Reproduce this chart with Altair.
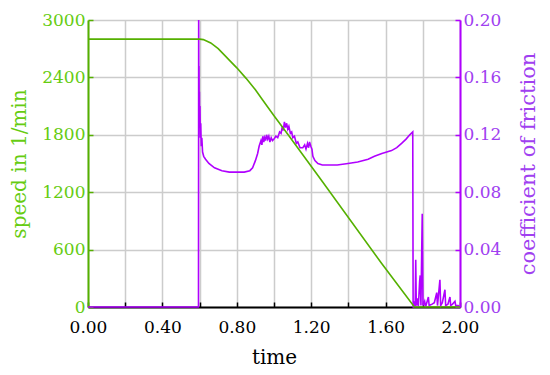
import altair as alt
import pandas as pd

# speed (1/min) vs time
speed_t = [0.0, 0.60, 0.62, 0.66, 0.70, 0.77, 0.80, 0.85, 0.90, 0.939, 1.0, 1.076, 1.254, 1.578, 1.755, 2.0]
speed_v = [2800, 2800, 2795, 2760, 2700, 2560, 2500, 2390, 2270, 2164, 2000, 1800, 1327, 457, 0, 0]

# coefficient of friction vs time
fric_t = [0.000, 0.594, 0.595, 0.596, 0.597, 0.598, 0.599, 0.600, 0.602, 0.604, 0.606, 0.609,
          0.612, 0.616, 0.622, 0.632, 0.650, 0.680, 0.720, 0.760, 0.800, 0.840, 0.870, 0.885,
          0.900, 0.912, 0.920, 0.930, 0.935, 0.940, 0.945, 0.950, 0.955, 0.960, 0.966, 0.972,
          0.978, 0.985, 0.992, 1.000, 1.010, 1.020, 1.030, 1.038, 1.045, 1.050, 1.056, 1.062,
          1.068, 1.074, 1.080, 1.088, 1.095, 1.101, 1.110, 1.120, 1.128, 1.140, 1.155, 1.165,
          1.172, 1.180, 1.186, 1.191, 1.198, 1.204, 1.209, 1.220, 1.236, 1.260, 1.290, 1.340,
          1.398, 1.450, 1.506, 1.540, 1.580, 1.632, 1.660, 1.686, 1.710, 1.730, 1.746, 1.748,
          1.750, 1.756, 1.759, 1.762, 1.765, 1.772, 1.776, 1.783, 1.786, 1.790, 1.797, 1.801,
          1.810, 1.815, 1.830, 1.834, 1.850, 1.862, 1.875, 1.879, 1.892, 1.896, 1.905, 1.919,
          1.923, 1.935, 1.946, 1.950, 1.960, 1.973, 1.977, 1.990, 2.000]
fric_v = [0.000, 0.000, 0.200, 0.150, 0.168, 0.135, 0.150, 0.125, 0.140, 0.118, 0.128, 0.112,
          0.118, 0.108, 0.105, 0.103, 0.100, 0.097, 0.095, 0.094, 0.094, 0.094, 0.095, 0.097,
          0.102, 0.107, 0.112, 0.116, 0.113, 0.119, 0.115, 0.118, 0.116, 0.120, 0.117, 0.119,
          0.115, 0.118, 0.116, 0.117, 0.119, 0.118, 0.122, 0.121, 0.126, 0.123, 0.129, 0.125,
          0.128, 0.124, 0.126, 0.121, 0.122, 0.118, 0.119, 0.114, 0.115, 0.111, 0.111, 0.113,
          0.110, 0.114, 0.111, 0.115, 0.112, 0.110, 0.105, 0.102, 0.100, 0.099, 0.099, 0.099,
          0.100, 0.101, 0.103, 0.105, 0.107, 0.109, 0.111, 0.114, 0.117, 0.120, 0.122, 0.000,
          0.000, 0.004, 0.000, 0.033, 0.001, 0.006, 0.000, 0.018, 0.022, 0.001, 0.065, 0.001,
          0.004, 0.000, 0.007, 0.001, 0.002, 0.003, 0.010, 0.001, 0.019, 0.001, 0.003, 0.012,
          0.001, 0.002, 0.007, 0.001, 0.002, 0.004, 0.001, 0.001, 0.000]

x_ticks = [0.0, 0.2, 0.4, 0.6, 0.8, 1.0, 1.2, 1.4, 1.6, 1.8, 2.0]
speed_ticks = [0, 600, 1200, 1800, 2400, 3000]
fric_ticks = [0.0, 0.04, 0.08, 0.12, 0.16, 0.20]

speed_df = pd.DataFrame({"time": speed_t, "speed": speed_v})
fric_df = pd.DataFrame({"time": fric_t, "cof": fric_v})

FONT = "DejaVu Serif"
GREEN_LINE = "#55b000"
GREEN_TXT = "#66cc11"
PURPLE_LINE = "#b000ff"
PURPLE_TXT = "#a040f0"

x_enc = alt.X(
    "time:Q",
    scale=alt.Scale(domain=[0, 2.0], nice=False),
    axis=alt.Axis(
        title="time", values=x_ticks,
        labelExpr="round(datum.value*10) % 4 == 0 ? format(datum.value, '.2f') : ''",
        labelFlush=False, labelOverlap=False,
        grid=True, gridColor="#cccccc", gridWidth=1.5,
        domainColor="black", domainWidth=2, tickColor="black",
        tickSize=alt.ExprRef("-5"), tickWidth=1.5,
        labelFont=FONT, labelFontSize=17, labelColor="black", labelPadding=17,
        titleFont=FONT, titleFontSize=20, titleFontWeight="normal", titleColor="black",
        titlePadding=12,
    ),
)

fric = alt.Chart(fric_df).mark_line(color=PURPLE_LINE, strokeWidth=1.6).encode(
    x=x_enc,
    y=alt.Y(
        "cof:Q",
        scale=alt.Scale(domain=[0, 0.2], nice=False),
        axis=alt.Axis(
            orient="right", title="coefficient of friction", values=fric_ticks, format=".2f",
            grid=False, domainColor=PURPLE_LINE, domainWidth=2, tickColor=PURPLE_LINE,
            tickSize=alt.ExprRef("-5"), tickWidth=1.5, labelFlush=False,
            labelFont=FONT, labelFontSize=17, labelColor=PURPLE_TXT, labelPadding=8,
            titleFont=FONT, titleFontSize=21, titleFontWeight="normal", titleColor=PURPLE_TXT,
            titleAngle=270, titlePadding=38,
        ),
    ),
)

speed = alt.Chart(speed_df).mark_line(color=GREEN_LINE, strokeWidth=1.6).encode(
    x=x_enc,
    y=alt.Y(
        "speed:Q",
        scale=alt.Scale(domain=[0, 3000], nice=False),
        axis=alt.Axis(
            orient="left", title="speed in 1/min", values=speed_ticks, format="d",
            grid=True, gridColor="#cccccc", gridWidth=1.5, labelFlush=False,
            domainColor=GREEN_LINE, domainWidth=2, tickColor=GREEN_LINE,
            tickSize=alt.ExprRef("-5"), tickWidth=1.5,
            labelFont=FONT, labelFontSize=17, labelColor=GREEN_TXT, labelPadding=8,
            titleFont=FONT, titleFontSize=20, titleFontWeight="normal", titleColor=GREEN_TXT,
            titlePadding=12,
        ),
    ),
)

chart = (
    alt.layer(fric, speed)
    .resolve_scale(y="independent")
    .properties(
        width=372, height=287,
        autosize=alt.AutoSizeParams(type="none"),
        padding={"left": 80, "top": 12, "right": 82, "bottom": 60},
        background="white",
    )
    .configure_view(strokeWidth=0)
)

chart.save("out.html", embed_options={"renderer": "svg", "actions": False})
